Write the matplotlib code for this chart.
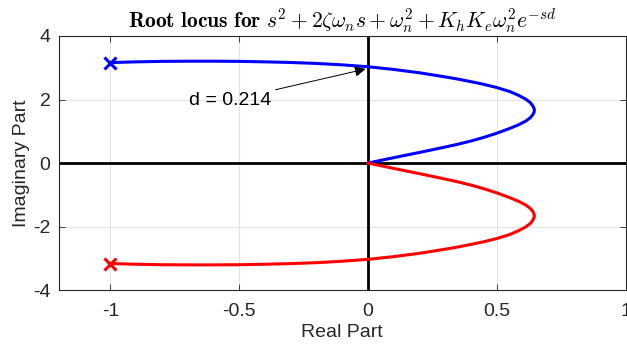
import numpy as np
import matplotlib
matplotlib.use('Agg')
import matplotlib.pyplot as plt

plt.rcParams['font.family'] = ['Liberation Sans', 'DejaVu Sans']
plt.rcParams['mathtext.fontset'] = 'cm'

# upper branch (blue), from the pole to the origin
upper_re = [-1.0, -0.9, -0.8, -0.7, -0.6, -0.5, -0.4, -0.3, -0.2, -0.1, 0.0,
            0.1, 0.2, 0.3, 0.35, 0.4, 0.45, 0.5, 0.55, 0.583, 0.612, 0.630, 0.640, 0.645,
            0.645, 0.640, 0.630, 0.612, 0.583, 0.55, 0.5, 0.45, 0.4, 0.35, 0.3, 0.2,
            0.1, 0.05, 0.0]
upper_im = [3.162, 3.185, 3.200, 3.205, 3.205, 3.200, 3.185, 3.165, 3.135, 3.090, 3.030,
            2.945, 2.840, 2.710, 2.640, 2.560, 2.475, 2.375, 2.250, 2.135, 2.010, 1.900, 1.790, 1.700,
            1.620, 1.530, 1.430, 1.320, 1.200, 1.090, 0.940, 0.810, 0.695, 0.595, 0.505, 0.335,
            0.170, 0.085, 0.0]

# lower branch (red)
lower_re = [-1.0, -0.9, -0.8, -0.7, -0.6, -0.5, -0.4, -0.3, -0.2, -0.1, 0.0,
            0.1, 0.2, 0.3, 0.35, 0.4, 0.45, 0.5, 0.55, 0.583, 0.612, 0.630, 0.640, 0.645,
            0.645, 0.640, 0.630, 0.612, 0.583, 0.55, 0.5, 0.45, 0.4, 0.35, 0.3, 0.2,
            0.1, 0.05, 0.0]
lower_im = [-3.162, -3.185, -3.200, -3.205, -3.205, -3.200, -3.185, -3.165, -3.135, -3.090, -3.030,
            -2.945, -2.840, -2.710, -2.640, -2.560, -2.475, -2.375, -2.250, -2.135, -2.010, -1.900, -1.790, -1.700,
            -1.620, -1.530, -1.430, -1.320, -1.200, -1.090, -0.940, -0.810, -0.695, -0.595, -0.505, -0.335,
            -0.170, -0.085, 0.0]

poles_re = [-1.0, -1.0]
poles_im = [3.162, -3.162]

crossing = (-0.01, 2.96)
crossing_label = 'd = 0.214'

xticks = [-1, -0.5, 0, 0.5, 1]
yticks = [-4, -2, 0, 2, 4]

GRAY = '#262626'

fig = plt.figure(figsize=(6.27, 3.56), dpi=100)
ax = fig.add_axes([0.094, 0.185, 0.904, 0.714])

ax.set_xlim(-1.2, 1.0)
ax.set_ylim(-4, 4)
ax.set_xticks(xticks)
ax.set_xticklabels(['-1', '-0.5', '0', '0.5', '1'])
ax.set_yticks(yticks)
ax.set_yticklabels(['-4', '-2', '0', '2', '4'])
ax.grid(True, color='#e3e3e3', linewidth=0.8)
ax.set_axisbelow(True)
ax.tick_params(direction='in', length=4, width=0.6, colors=GRAY,
               labelsize=14, top=True, right=True)
ax.tick_params(axis='x', pad=9)
ax.tick_params(axis='y', pad=6)
for sp in ax.spines.values():
    sp.set_color(GRAY)
    sp.set_linewidth(0.8)

ax.axhline(0, color='black', linewidth=2, zorder=2)
ax.axvline(0, color='black', linewidth=2, zorder=2)

ax.plot(upper_re, upper_im, color='#0000ff', linewidth=2.2, zorder=3,
        solid_joinstyle='round')
ax.plot(lower_re, lower_im, color='#ff0000', linewidth=2.2, zorder=3,
        solid_joinstyle='round')
ax.plot(poles_re[0], poles_im[0], 'x', color='#0000ff', markersize=9, mew=2.2, zorder=4)
ax.plot(poles_re[1], poles_im[1], 'x', color='#ff0000', markersize=9, mew=2.2, zorder=4)

ax.annotate(crossing_label, xy=crossing, xytext=(-0.375, 1.98),
            ha='right', va='center', fontsize=14, color='black',
            arrowprops=dict(arrowstyle='-|>', color='black', lw=0.7,
                            mutation_scale=16, shrinkA=1, shrinkB=0))

ax.set_xlabel('Real Part', fontsize=14, color=GRAY, labelpad=3)
ax.set_ylabel('Imaginary Part', fontsize=14, color=GRAY, labelpad=2)
ax.set_title(r'$\mathbf{Root\ locus\ for}\ s^2+2\zeta\omega_n s+\omega_n^2+K_hK_e\omega_n^2e^{-sd}$',
             fontsize=15.5, pad=6)

fig.savefig('out.png', dpi=100)
